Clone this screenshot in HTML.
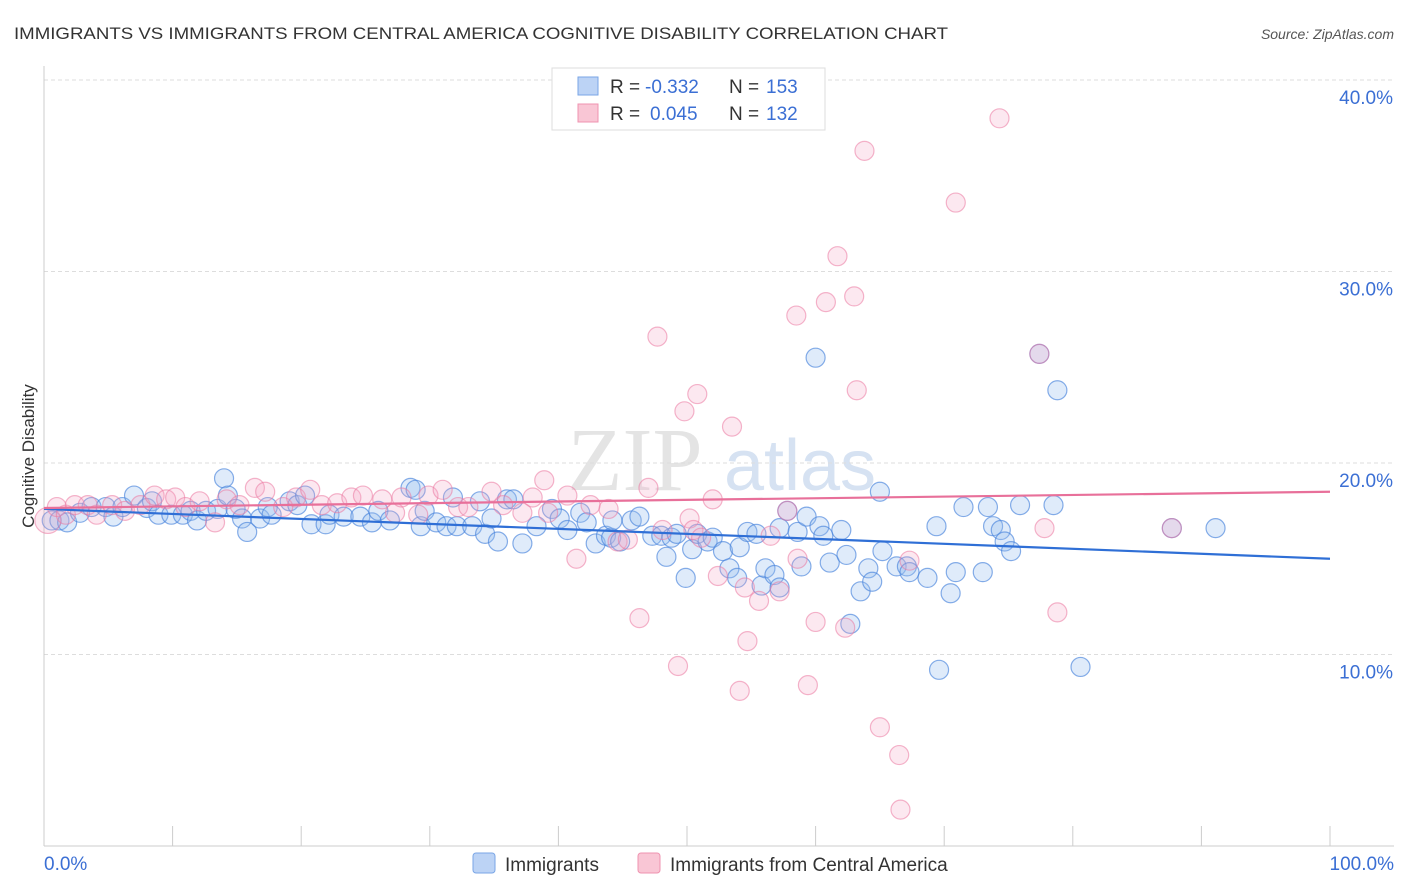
<!DOCTYPE html>
<html><head><meta charset="utf-8"><style>
body{margin:0;background:#fff;font-family:"Liberation Sans",sans-serif;}
svg{display:block}
</style></head><body>
<svg id="chart" width="1406" height="892" xmlns="http://www.w3.org/2000/svg">
<text x="14" y="39" font-size="17" fill="#333" textLength="934" lengthAdjust="spacingAndGlyphs">IMMIGRANTS VS IMMIGRANTS FROM CENTRAL AMERICA COGNITIVE DISABILITY CORRELATION CHART</text>
<text x="1394" y="39" font-size="14" fill="#555" font-style="italic" text-anchor="end">Source: ZipAtlas.com</text>
<text x="635" y="490" font-size="90" fill="#e4e4e4" font-family="Liberation Serif" text-anchor="middle">ZIP</text>
<text x="800" y="490" font-size="72" fill="#d6e2f2" text-anchor="middle">atlas</text>
<g id="grid"></g>
<g id="axes"></g>
<g id="pts"></g>
<g id="trend"></g>
<text transform="translate(34,456) rotate(-90)" font-size="17" fill="#333" text-anchor="middle">Cognitive Disability</text>
<g>
<rect x="552" y="68" width="273" height="62" fill="#fff" stroke="#ddd"/>
<rect x="578" y="77" width="20" height="18" fill="#bcd3f5" stroke="#7aa6e6"/>
<rect x="578" y="104" width="20" height="18" fill="#f9c6d5" stroke="#ef93b0"/>
<text y="93" font-size="19" fill="#333"><tspan x="610">R =</tspan><tspan x="645" fill="#3b6fd4">-0.332</tspan><tspan x="729">N =</tspan><tspan x="766" fill="#3b6fd4">153</tspan></text>
<text y="120" font-size="19" fill="#333"><tspan x="610">R =</tspan><tspan x="650" fill="#3b6fd4">0.045</tspan><tspan x="729">N =</tspan><tspan x="766" fill="#3b6fd4">132</tspan></text>
</g>
<g>
<rect x="473" y="853" width="22" height="20" rx="3" fill="#bcd3f5" stroke="#7aa6e6"/>
<text x="505" y="871" font-size="19" fill="#333">Immigrants</text>
<rect x="638" y="853" width="22" height="20" rx="3" fill="#f9c6d5" stroke="#ef93b0"/>
<text x="670" y="871" font-size="19" fill="#333">Immigrants from Central America</text>
</g>
</svg>
<script>
const yTicks=[10,20,30,40];
const yTickLabels=["10.0%","20.0%","30.0%","40.0%"];
const blueX=[0.6,1.2,1.8,2.8,3.7,4.8,5.4,6.1,7.0,8.0,8.4,8.9,9.9,10.8,11.4,11.9,12.6,13.5,14.0,14.3,14.9,15.4,15.8,16.8,17.4,17.7,19.1,19.7,20.3,20.8,21.9,22.2,23.3,24.6,25.5,26.0,26.9,28.5,28.9,29.3,29.6,30.5,31.3,31.8,32.1,33.3,33.9,34.3,34.8,35.3,36.0,36.5,37.2,38.3,39.5,40.1,40.7,41.7,42.2,42.9,43.7,44.1,44.2,44.8,45.7,46.3,47.3,48.0,48.4,48.8,49.2,49.9,50.4,50.8,51.6,52.0,52.8,53.3,53.9,54.1,54.7,55.4,55.8,56.1,56.8,57.2,57.2,57.8,58.6,58.9,59.3,60.0,60.3,60.6,61.1,62.0,62.4,62.7,63.5,64.1,64.4,65.0,65.2,66.3,67.1,67.3,68.7,69.4,69.6,70.5,70.9,71.5,73.0,73.4,73.8,74.4,74.7,75.2,75.9,77.4,78.5,78.8,80.6,87.7,91.1];
const blueY=[17.0,17.0,16.9,17.4,17.7,17.7,17.2,17.7,18.3,17.65,18.0,17.3,17.3,17.3,17.5,17.0,17.5,17.6,19.2,18.3,17.6,17.1,16.4,17.1,17.7,17.3,18.0,17.8,18.3,16.8,16.8,17.3,17.2,17.2,16.9,17.5,17.0,18.7,18.6,16.7,17.5,16.9,16.7,18.2,16.7,16.7,18.0,16.3,17.1,15.9,18.1,18.1,15.8,16.7,17.6,17.1,16.5,17.4,16.9,15.8,16.2,16.1,17.0,15.9,17.0,17.2,16.2,16.2,15.1,16.1,16.3,14.0,15.5,16.3,15.9,16.1,15.4,14.5,14.0,15.6,16.4,16.3,13.6,14.5,14.15,16.6,13.5,17.5,16.4,14.6,17.2,25.5,16.7,16.2,14.8,16.5,15.2,11.6,13.3,14.5,13.8,18.5,15.4,14.6,14.6,14.3,14.0,16.7,9.2,13.2,14.3,17.7,14.3,17.7,16.7,16.5,15.9,15.4,17.8,25.7,17.8,23.8,9.35,16.6,16.6];
const pinkX=[0.3,1.0,1.7,2.4,3.4,4.1,5.3,6.3,7.5,8.6,9.5,10.2,11.0,12.1,13.3,14.2,15.2,16.4,17.2,18.6,19.6,20.7,21.6,22.8,23.9,24.8,26.3,27.3,27.8,29.1,29.9,31.0,32.2,33.0,34.8,35.7,37.2,38.0,38.9,39.2,40.7,41.4,42.5,43.9,44.6,45.4,46.3,47.0,47.7,48.1,49.3,49.8,50.2,50.5,50.8,51.1,52.0,52.4,53.5,54.1,54.5,54.7,55.6,56.5,57.2,57.8,58.5,58.6,59.4,60.0,60.8,61.7,62.3,63.0,63.2,63.8,65.0,66.5,66.6,67.3,70.9,74.3,77.4,77.8,78.8,87.7];
const pinkY=[17.0,17.7,17.3,17.8,17.8,17.3,17.8,17.5,17.8,18.3,18.1,18.2,17.7,18.0,16.9,18.1,17.8,18.7,18.5,17.7,18.2,18.6,17.8,17.9,18.2,18.3,18.1,17.4,18.2,17.3,18.3,18.6,17.7,17.7,18.5,17.8,17.4,18.2,19.1,17.4,18.3,15.0,17.8,17.6,15.9,16.0,11.9,18.7,26.6,16.5,9.4,22.7,17.1,16.5,23.6,16.1,18.1,14.1,21.9,8.1,13.5,10.7,12.8,16.2,13.3,17.5,27.7,15.0,8.4,11.7,28.4,30.8,11.4,28.7,23.8,36.3,6.2,4.75,1.9,14.9,33.6,38.0,25.7,16.6,12.2,16.6];
const blueTrend=[17.6,15.0];
const pinkTrend=[17.65,18.5];
const X=v=>44+v*12.86, Y=v=>846-v*19.15;
const NS="http://www.w3.org/2000/svg";
function mk(tag,attrs,parent){const e=document.createElementNS(NS,tag);for(const k in attrs)e.setAttribute(k,attrs[k]);parent.appendChild(e);return e;}
const grid=document.getElementById('grid'),axes=document.getElementById('axes'),pts=document.getElementById('pts'),trend=document.getElementById('trend');
yTicks.forEach((t,i)=>{
  const l=mk('line',{x1:44,x2:1394,y1:Y(t),y2:Y(t),stroke:'#ddd','stroke-dasharray':'4,3'},grid);
  
  
  const tx=mk('text',{x:1393,y:Y(t)+24,'font-size':19,fill:'#3b6fd4','text-anchor':'end'},axes);
  tx.textContent=yTickLabels[i];
  
  
});
const ax=mk('line',{x1:44,x2:1394,y1:846,y2:846,stroke:'#ccc'},axes);


const ay=mk('line',{x1:44,x2:44,y1:66,y2:846,stroke:'#ccc'},axes);


for(let i=0;i<=10;i++){const tk=mk('line',{x1:X(i*10),x2:X(i*10),y1:826,y2:846,stroke:'#ccc'},axes);

}
const xl0=mk('text',{x:44,y:870,'font-size':19,fill:'#3b6fd4'},axes);xl0.textContent='0.0%';


const xl1=mk('text',{x:1394,y:870,'font-size':19,fill:'#3b6fd4','text-anchor':'end'},axes);xl1.textContent='100.0%';


blueX.forEach((x,i)=>{const c=mk('circle',{cx:X(x),cy:Y(blueY[i]),r:9.5,fill:'rgba(150,188,238,0.3)',stroke:'rgba(70,130,220,0.65)','stroke-width':1.2},pts);

});
pinkX.forEach((x,i)=>{const c=mk('circle',{cx:X(x),cy:Y(pinkY[i]),r:x<1?13:9.5,fill:'rgba(245,165,195,0.25)',stroke:'rgba(235,120,160,0.55)','stroke-width':1.2},pts);

});
const bt=mk('line',{x1:X(0),x2:X(100),y1:Y(blueTrend[0]),y2:Y(blueTrend[1]),stroke:'#2f6fd6','stroke-width':2.2},trend);


const pt=mk('line',{x1:X(0),x2:X(100),y1:Y(pinkTrend[0]),y2:Y(pinkTrend[1]),stroke:'#e8709a','stroke-width':2.2},trend);


</script>
</body></html>
